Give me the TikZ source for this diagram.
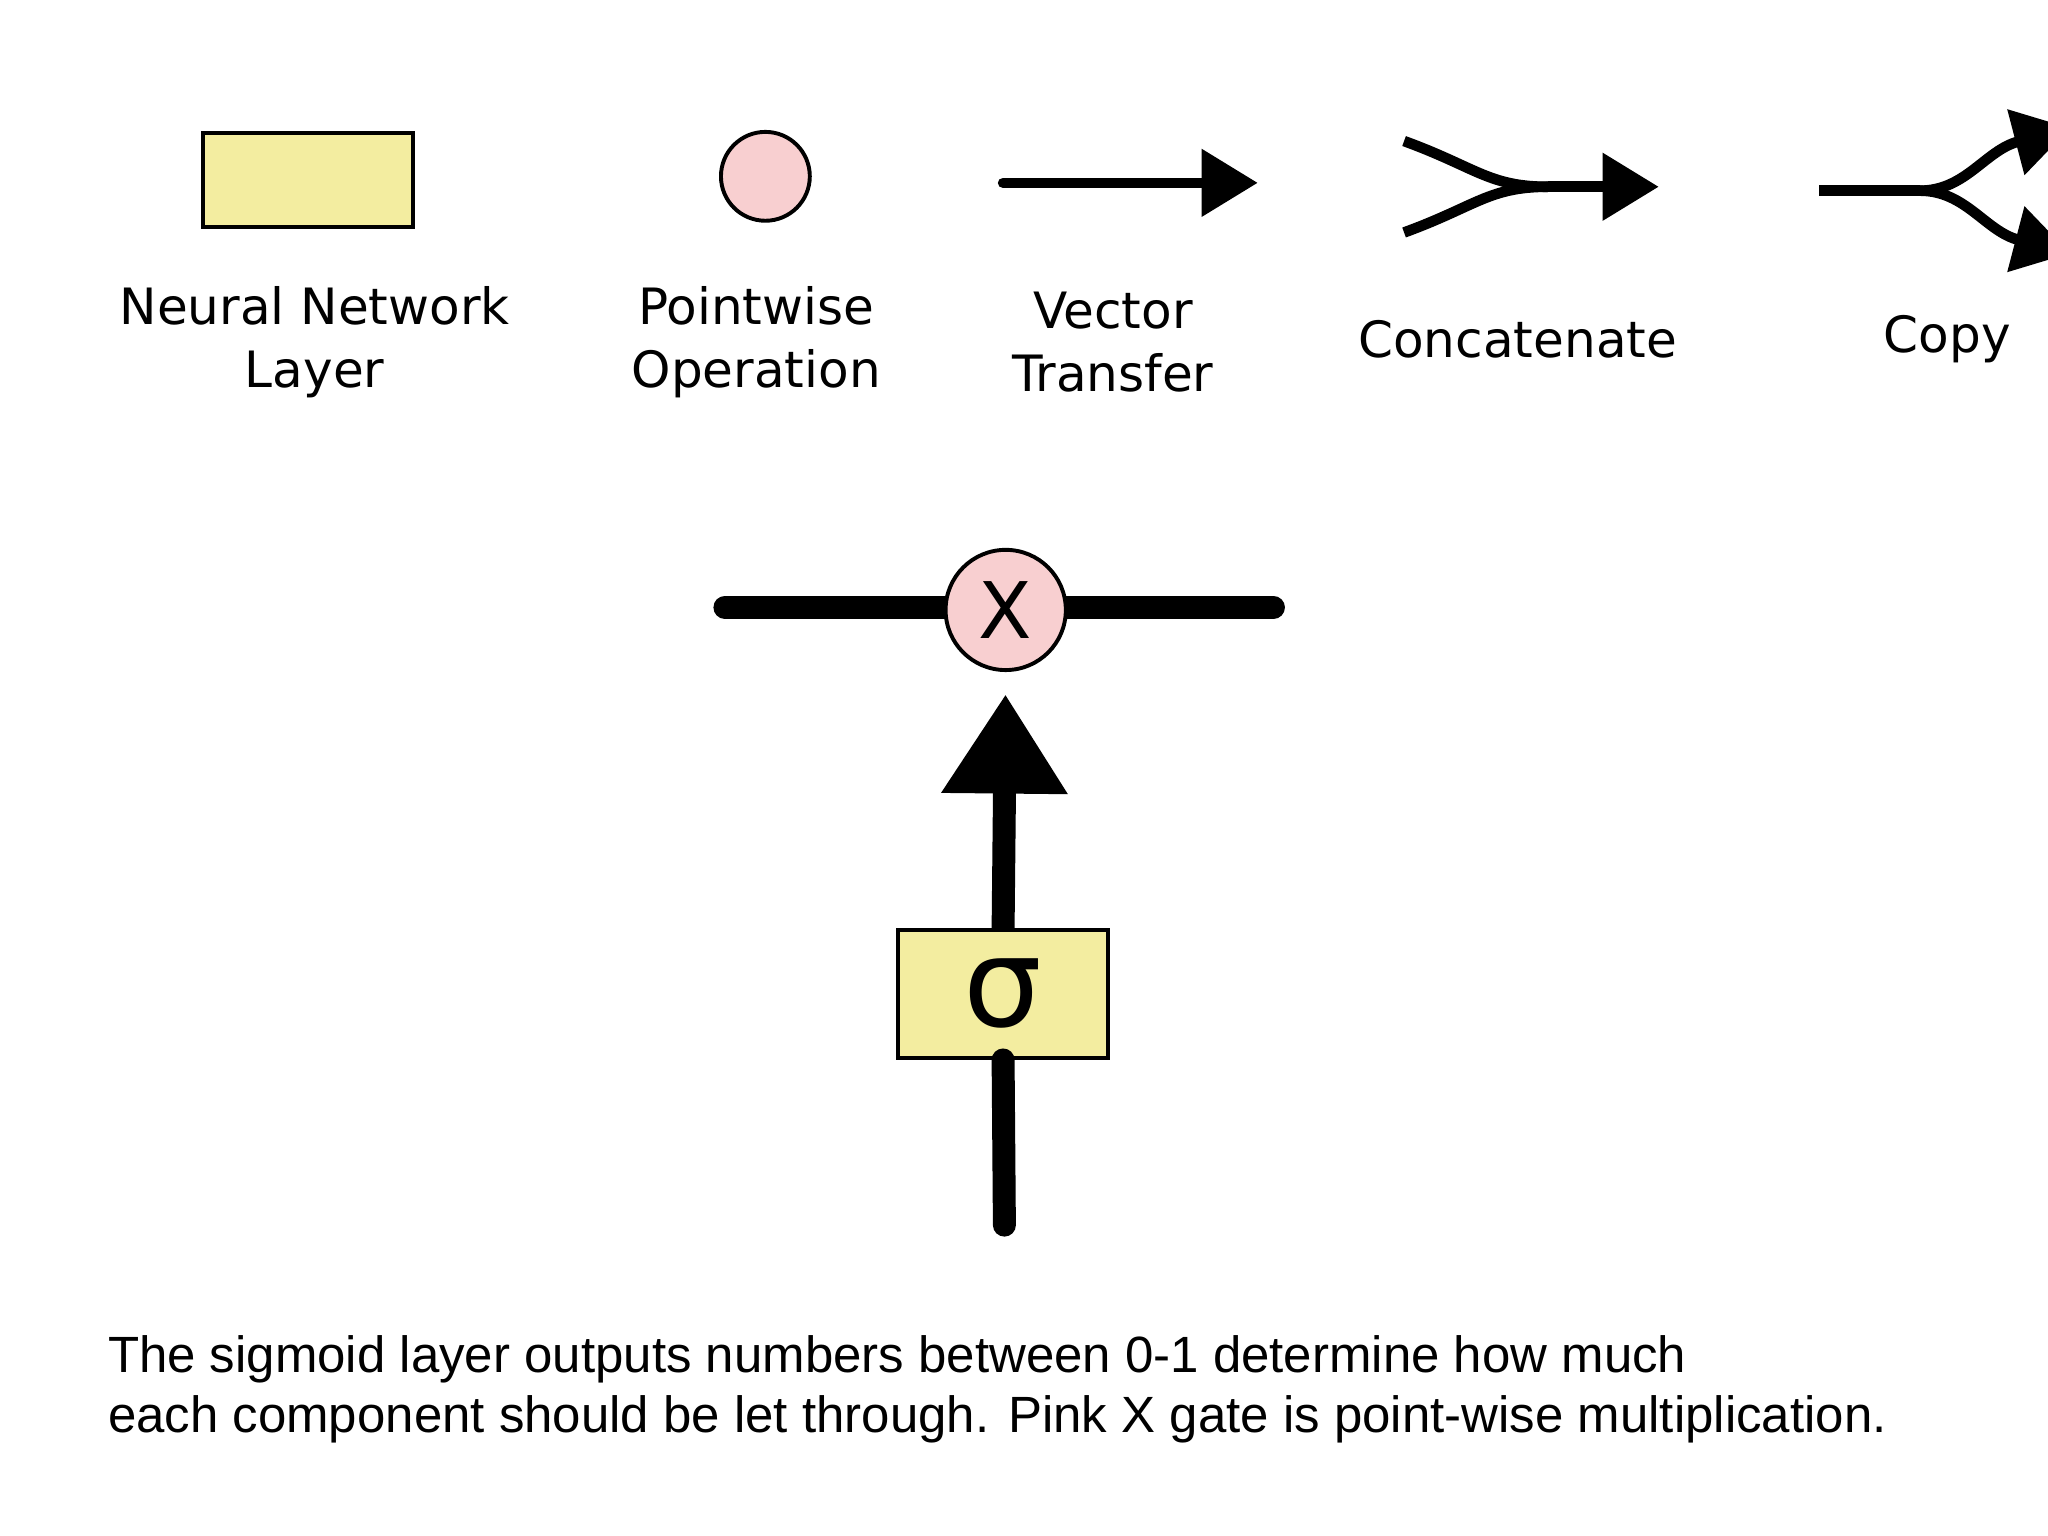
\documentclass[tikz,border=0pt]{standalone}
\usepackage{fontspec}
\setmainfont{DejaVu Sans}
\newfontfamily\capfont{Liberation Sans}
\usetikzlibrary{arrows.meta}
\definecolor{nnyellow}{HTML}{F3EDA0}
\definecolor{pwpink}{HTML}{F8CFD0}
\begin{document}
\begin{tikzpicture}[x=0.01cm,y=-0.01cm,
  layer/.style={draw=black,line width=0.85pt,fill=nnyellow,inner sep=0},
  pw/.style={circle,draw=black,line width=0.85pt,fill=pwpink,inner sep=0},
  lbl/.style={font=\fontsize{10.9}{13.8}\selectfont,align=center},
  small/.style={line width=2.3pt,-{Triangle[length=0.43cm,width=0.5cm]}},
  thin/.style={line width=2.3pt},
  big/.style={line width=5pt,line cap=round}]
\useasboundingbox (0,0) rectangle (1568,1176);
\fill[white] (0,0) rectangle (1568,1176);
% legend
\node[layer,minimum width=1.61cm,minimum height=0.72cm] (nn) at (236,138) {};
\node[pw,minimum size=0.68cm] (pwo) at (586,135) {};
\coordinate (va) at (768,140); \coordinate (vb) at (963,140);
\draw[small,line cap=round] (va) -- (vb);
\coordinate (c1) at (1075,108); \coordinate (c2) at (1075,178);
\coordinate (cm) at (1185,143); \coordinate (ce) at (1270,143);
\draw[thin] (c1) .. controls (1130,128) and (1140,143) .. (cm);
\draw[thin] (c2) .. controls (1130,158) and (1140,143) .. (cm);
\draw[small] (cm) -- (ce);
\coordinate (k0) at (1393,146); \coordinate (km) at (1470,146);
\coordinate (k1) at (1585,98); \coordinate (k2) at (1585,194);
\draw[thin] (k0) -- (km);
\draw[small] (km) .. controls (1505,146) and (1520,115) .. (k1);
\draw[small] (km) .. controls (1505,146) and (1520,177) .. (k2);
\node[lbl] (l1) at (241,262) {Neural Network\\Layer};
\node[lbl] (l2) at (579,262) {Pointwise\\Operation};
\node[lbl] (l3) at (852,262) {Vector\\Transfer};
\node[lbl] (l4) at (1162,260) {Concatenate};
\node[lbl] (l5) at (1491,260) {Copy};
% main
\coordinate (hl) at (555,465); \coordinate (hr) at (975,465);
\draw[big] (hl) -- (hr);
\node[pw,minimum size=0.92cm,font=\fontsize{17}{17}\selectfont] (x) at (770,467) {X};
\coordinate (in) at (769,938);
\node[layer,minimum width=1.61cm,minimum height=0.98cm,font=\fontsize{27}{27}\selectfont] (sig) at (768,761) {σ};
\draw[big] (in) -- (sig.south);
\draw[line width=5pt,shorten >=0.17cm,-{Triangle[length=0.76cm,width=0.92cm]}] (sig.north) -- (x.south);
\node[anchor=north west,align=left,inner sep=0,font=\capfont\fontsize{11.1}{13.1}\selectfont] (cap) at (82,1022)
{The sigmoid layer outputs numbers between 0-1 determine how much\\each component should be let through. Pink X gate is point-wise multiplication.};
\end{tikzpicture}
\end{document}
